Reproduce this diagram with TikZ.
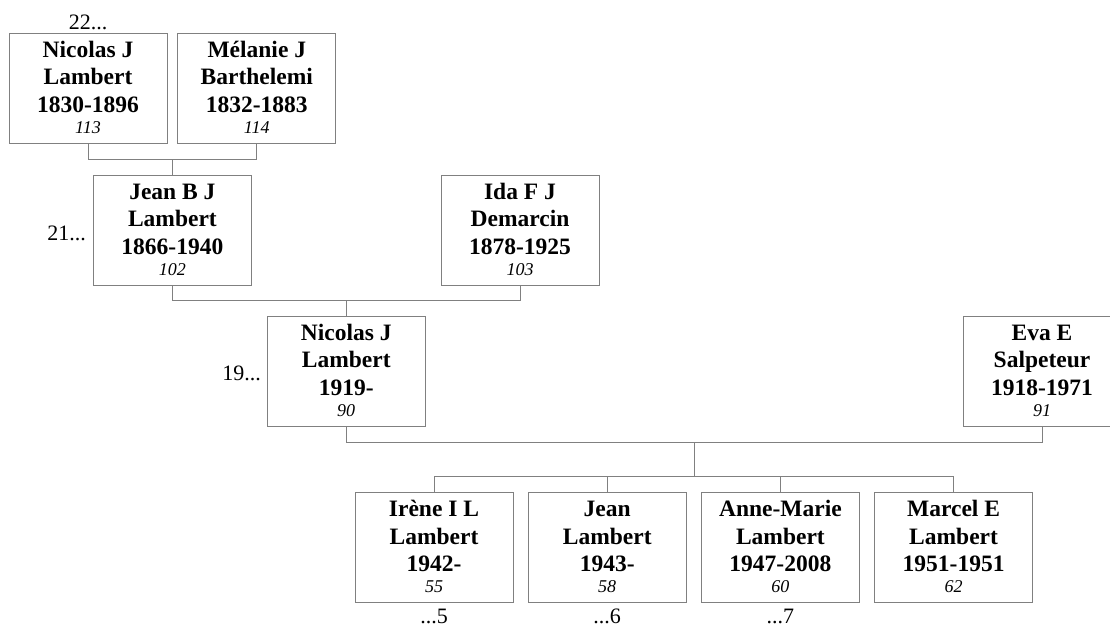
\documentclass[tikz,border=0pt]{standalone}
\usepackage{fontspec}
\setmainfont{Liberation Serif}
\definecolor{linegray}{RGB}{128,128,128}
\newcommand{\famcard}[4]{\begin{tabular}{@{}c@{}}\rule{0pt}{22pt}#1\\#2\\#3\\[-6.3pt]{\fontsize{18}{20}\selectfont\mdseries\itshape #4}\end{tabular}}
\tikzset{
  card/.style={draw=linegray, line width=1pt, minimum width=158pt, minimum height=110pt, inner sep=0pt, fill=white, font=\fontsize{23.5}{27.3}\selectfont\bfseries},
  conn/.style={draw=linegray, line width=1pt},
  lbl/.style={font=\fontsize{22}{24}\selectfont, inner sep=0pt}
}
\begin{document}
\begin{tikzpicture}[x=1pt,y=-1pt]
\useasboundingbox (0,0) rectangle (1110,627);
\clip (0,0) rectangle (1110,627);
\fill[white] (0,0) rectangle (1110,627);
% generation 1
\node[card] (A) at (88,88.3) {\famcard{Nicolas J}{Lambert}{1830-1896}{113}};
\node[card] (B) at (256.8,88.3) {\famcard{Mélanie J}{Barthelemi}{1832-1883}{114}};
% generation 2
\node[card] (C) at (172.4,230.3) {\famcard{Jean B J}{Lambert}{1866-1940}{102}};
\node[card] (D) at (520,230.3) {\famcard{Ida F J}{Demarcin}{1878-1925}{103}};
% generation 3
\node[card] (E) at (346.2,371.3) {\famcard{Nicolas J}{Lambert}{1919-}{90}};
\node[card] (F) at (1042,371.3) {\famcard{Eva E}{Salpeteur}{1918-1971}{91}};
% children
\node[card] (K1) at (434,547.6) {\famcard{Irène I L}{Lambert}{1942-}{55}};
\node[card] (K2) at (607.2,547.6) {\famcard{Jean}{Lambert}{1943-}{58}};
\node[card] (K3) at (780.4,547.6) {\famcard{Anne-Marie}{Lambert}{1947-2008}{60}};
\node[card] (K4) at (953.6,547.6) {\famcard{Marcel E}{Lambert}{1951-1951}{62}};
% junctions
\coordinate (j1) at (C.north |- 0,159.3);
\coordinate (j2) at (E.north |- 0,300.7);
\coordinate (j3) at (694,442.3);
\coordinate (j4) at (694,476.7);
% connectors
\draw[conn] (A.south) |- (j1) -| (B.south);
\draw[conn] (j1) -- (C.north);
\draw[conn] (C.south) |- (j2) -| (D.south);
\draw[conn] (j2) -- (E.north);
\draw[conn] (E.south) |- (j3) -| (F.south);
\draw[conn] (j3) -- (j4);
\draw[conn] (K1.north) |- (j4) -| (K4.north);
\draw[conn] (K2.north) -- (K2.north |- j4);
\draw[conn] (K3.north) -- (K3.north |- j4);
% labels
\node[lbl, anchor=base] (l22) at (88,29.5) {22...};
\node[lbl, anchor=base east] (l21) at (86,240.7) {21...};
\node[lbl, anchor=base east] (l19) at (261,380.7) {19...};
\node[lbl, anchor=base] (l5) at (434,623) {...5};
\node[lbl, anchor=base] (l6) at (607.2,623) {...6};
\node[lbl, anchor=base] (l7) at (780.4,623) {...7};
\end{tikzpicture}
\end{document}
